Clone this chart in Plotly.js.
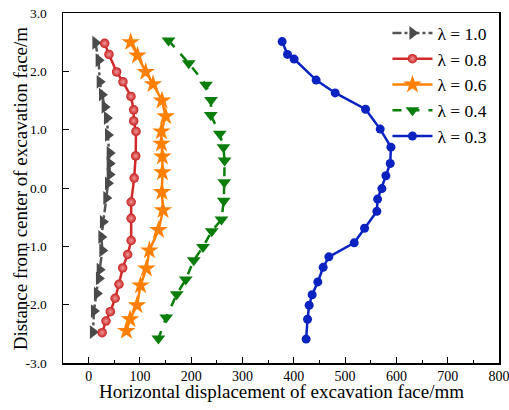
<!DOCTYPE html>
<html>
<head>
<meta charset="utf-8">
<script src="https://cdn.plot.ly/plotly-3.0.1.min.js"></script>
<style>
  html, body { margin: 0; padding: 0; background: #fff; }
  #chart { width: 509px; height: 410px; }
</style>
</head>
<body>
<div id="chart"></div>
<script>
// Horizontal displacement (mm) of the excavation face vs. distance from its centre (m)
const seriesNames = ['λ = 1.0', 'λ = 0.8', 'λ = 0.6', 'λ = 0.4', 'λ = 0.3'];

const disp10 = [13.1, 19.5, 21.5, 26.0, 31.2, 35.7, 37.7, 41.0, 41.0, 41.0, 37.7, 34.5, 27.9, 24.8, 26.7, 21.5, 20.1, 16.2, 10.3, 8.4];
const dist10 = [2.49, 2.19, 1.82, 1.60, 1.39, 1.20, 0.91, 0.60, 0.42, 0.23, 0.08, -0.17, -0.58, -0.84, -1.07, -1.40, -1.55, -1.81, -2.11, -2.47];

const disp08 = [31.2, 39.6, 54.6, 66.9, 82.5, 87.8, 87.8, 92.3, 91.7, 88.8, 82.9, 82.9, 82.9, 76.1, 66.3, 59.1, 51.7, 42.3, 33.8, 26.3];
const dist08 = [2.48, 2.29, 1.99, 1.82, 1.57, 1.34, 1.15, 0.97, 0.55, 0.17, -0.24, -0.52, -0.90, -1.14, -1.37, -1.65, -1.89, -2.12, -2.28, -2.48];

const disp06 = [82.0, 95.2, 111.2, 125.5, 143.0, 150.2, 141.9, 141.9, 143.8, 143.8, 142.8, 145.0, 136.2, 118.4, 112.6, 101.1, 94.2, 80.6, 73.6];
const dist06 = [2.50, 2.27, 1.99, 1.78, 1.50, 1.23, 0.97, 0.76, 0.54, 0.27, -0.07, -0.38, -0.72, -1.07, -1.38, -1.67, -2.01, -2.25, -2.45];

const disp04 = [155.7, 195.1, 228.7, 238.6, 238.0, 255.6, 262.8, 265.0, 264.4, 263.4, 258.9, 240.0, 223.0, 204.9, 189.3, 171.7, 151.2, 136.0];
const dist04 = [2.53, 2.14, 1.77, 1.51, 1.25, 0.93, 0.70, 0.47, 0.10, -0.22, -0.54, -0.74, -1.01, -1.24, -1.57, -1.82, -2.22, -2.58];

const disp03 = [377.2, 387.7, 400.6, 443.5, 480.6, 539.9, 568.4, 589.3, 587.9, 579.5, 571.7, 563.3, 561.9, 537.9, 517.7, 468.3, 457.2, 446.8, 435.7, 429.9, 426.7, 424.0];
const dist03 = [2.51, 2.29, 2.21, 1.85, 1.63, 1.35, 1.01, 0.70, 0.42, 0.21, -0.01, -0.19, -0.40, -0.69, -0.94, -1.18, -1.36, -1.61, -1.83, -2.01, -2.25, -2.59];

const xTickVals = [0, 100, 200, 300, 400, 500, 600, 700, 800];
const yTickVals = [-3, -2, -1, 0, 1, 2, 3];
const yTickText = ['-3.0', '-2.0', '-1.0', '0.0', '1.0', '2.0', '3.0'];

const xTitle = 'Horizontal displacement of excavation face/mm';
const yTitle = 'Distance from center of excavation face/m';

const serif = "'Liberation Serif', 'Times New Roman', serif";

const traces = [
  {
    x: disp10, y: dist10, name: seriesNames[0], mode: 'lines+markers',
    line: { color: '#555555', width: 2.5, dash: 'dashdot' },
    marker: { symbol: 'triangle-right', size: 12, color: '#4a4a4a' }
  },
  {
    x: disp08, y: dist08, name: seriesNames[1], mode: 'lines+markers',
    line: { color: '#d12a2a', width: 2.5 },
    marker: { symbol: 'circle', size: 9.5, color: '#c81e1e',
              gradient: { type: 'radial', color: '#f09a9a' } }
  },
  {
    x: disp06, y: dist06, name: seriesNames[2], mode: 'lines+markers',
    line: { color: '#ff8000', width: 2.5 },
    marker: { symbol: 'star', size: 14, color: '#ff8000' }
  },
  {
    x: disp04, y: dist04, name: seriesNames[3], mode: 'lines+markers',
    line: { color: '#0a7d0a', width: 2.5, dash: 'dash' },
    marker: { symbol: 'triangle-down', size: 12, color: '#0a7d0a' }
  },
  {
    x: disp03, y: dist03, name: seriesNames[4], mode: 'lines+markers',
    line: { color: '#0a22c0', width: 2.5 },
    marker: { symbol: 'circle', size: 9, color: '#0a22c0' }
  }
];

const layout = {
  width: 509,
  height: 410,
  margin: { l: 63, r: 10, t: 13, b: 47, autoexpand: false },
  paper_bgcolor: '#ffffff',
  plot_bgcolor: '#ffffff',
  font: { family: serif, color: '#000000', size: 14 },
  showlegend: true,
  legend: {
    x: 0.985, xanchor: 'right', y: 0.994, yanchor: 'top',
    bgcolor: 'rgba(0,0,0,0)', borderwidth: 0,
    font: { family: serif, size: 17.5, color: '#000' },
    itemwidth: 40
  },
  xaxis: {
    range: [-50, 800],
    tickvals: xTickVals,
    ticklabeloverflow: 'allow',
    ticks: 'inside', ticklen: 6, tickwidth: 1, tickcolor: '#000',
    minor: { dtick: 50, tick0: 0, ticks: 'inside', ticklen: 3, tickwidth: 1, tickcolor: '#000' },
    showgrid: false, zeroline: false,
    showline: true, linecolor: '#000', linewidth: 1.5, mirror: true,
    tickfont: { family: serif, size: 14, color: '#000' }
  },
  yaxis: {
    range: [-3, 3],
    tickvals: yTickVals,
    ticktext: yTickText,
    ticks: 'inside', ticklen: 6, tickwidth: 1, tickcolor: '#000',
    showgrid: false, zeroline: false,
    showline: true, linecolor: '#000', linewidth: 1.5, mirror: true,
    tickfont: { family: serif, size: 13.5, color: '#000' },
    ticklabelstandoff: 12
  },
  annotations: [
    {
      text: xTitle, xref: 'paper', yref: 'paper', x: 0.5, y: -0.08,
      xanchor: 'center', yanchor: 'middle', showarrow: false,
      font: { family: serif, size: 19, color: '#000' }
    },
    {
      text: yTitle, xref: 'paper', yref: 'paper', x: -0.098, y: 0.5,
      xanchor: 'center', yanchor: 'middle', textangle: -90, showarrow: false,
      font: { family: serif, size: 19, color: '#000' }
    },
    {
      text: '(a)', xref: 'paper', yref: 'paper', x: 0.452, y: 1.03,
      xanchor: 'center', yanchor: 'bottom', showarrow: false,
      font: { family: serif, size: 18, color: '#000' }
    }
  ]
};

Plotly.newPlot('chart', traces, layout, { displayModeBar: false, staticPlot: true });
</script>
</body>
</html>
